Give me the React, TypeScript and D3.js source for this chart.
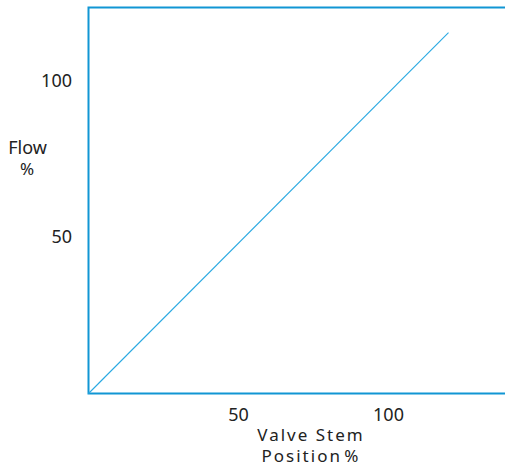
import React from "react";
import * as d3 from "d3";

const xTicks = [50, 100];
const yTicks = [50, 100];
const lineX = [0, 120];
const lineY = [0, 115.3];
const xLabelLines = ["Valve Stem", "Position %"];
const yLabelLines = ["Flow", "%"];

const W = 505;
const H = 466;
const left = 88.5;
const bottom = 393.5;
const top = 7.5;

export default function App() {
  const x = d3.scaleLinear().domain([0, 100]).range([left, 388.5]);
  const y = d3.scaleLinear().domain([0, 100]).range([bottom, 80.5]);
  const pts: [number, number][] = lineX.map((v, i) => [v, lineY[i]]);
  const line = d3
    .line<[number, number]>()
    .x((d) => x(d[0]))
    .y((d) => y(d[1]));
  const font = "'Noto Sans', 'Open Sans', sans-serif";
  const textColor = "#222";
  const boxColor = "#1196d4";
  return (
    <svg
      width={W}
      height={H}
      style={{ position: "absolute", left: 0, top: 0, display: "block", background: "#fff" }}
      fontFamily={font}
    >
      <path
        d={`M${W + 5},${top}H${left}V${bottom}H${W + 5}`}
        fill="none"
        stroke={boxColor}
        strokeWidth={2}
      />
      <path d={line(pts) || ""} fill="none" stroke="#29a9e2" strokeWidth={1.1} />
      {yTicks.map((t) => (
        <text key={"y" + t} x={72} y={y(t)} dy="0.36em" textAnchor="end" fontSize={18} fill={textColor}>
          {t}
        </text>
      ))}
      {xTicks.map((t) => (
        <text key={"x" + t} x={x(t)} y={421} textAnchor="middle" fontSize={18} fill={textColor}>
          {t}
        </text>
      ))}
      <text x={27.5} y={154} textAnchor="middle" fontSize={18} fill={textColor}>
        {yLabelLines[0]}
      </text>
      <text x={27} y={175} textAnchor="middle" fontSize={17} fill={textColor}>
        {yLabelLines[1]}
      </text>
      {xLabelLines.map((s, i) => (
        <text
          key={s}
          x={311}
          y={441 + i * 21}
          textAnchor="middle"
          fontSize={17}
          letterSpacing={2}
          wordSpacing={i === 1 ? -4 : 0}
          fill={textColor}
        >
          {s}
        </text>
      ))}
    </svg>
  );
}
